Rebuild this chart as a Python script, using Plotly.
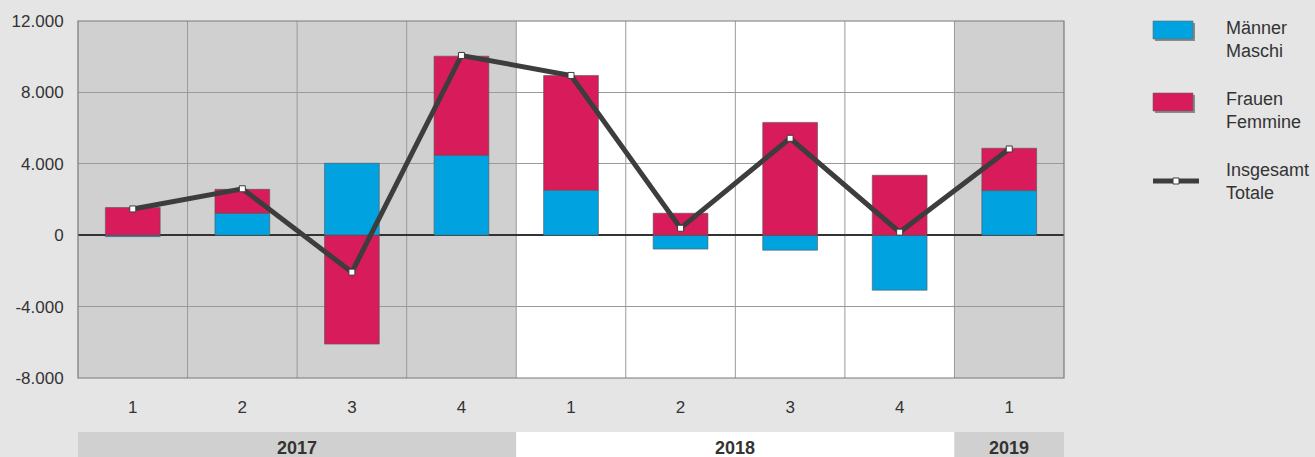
import plotly.graph_objects as go

quarters = ["1", "2", "3", "4", "1", "2", "3", "4", "1"]
years = ["2017", "2018", "2019"]
year_quarter_counts = [4, 4, 1]
maenner = [-80, 1230, 4030, 4480, 2520, -780, -840, -3080, 2500]
frauen = [1550, 1340, -6100, 5550, 6430, 1230, 6320, 3360, 2370]
insgesamt = [1470, 2600, -2070, 10070, 8950, 390, 5430, 170, 4830]
y_tickvals = [-8000, -4000, 0, 4000, 8000, 12000]
y_ticktext = ["-8.000", "-4.000", "0", "4.000", "8.000", "12.000"]
legend_labels = ["Männer<br>Maschi", "Frauen<br>Femmine", "Insgesamt<br>Totale"]

BLUE = "#00a3e0"
RED = "#d81b5a"
LINE = "#3d3d3d"
PAGE = "#e5e5e5"
GRAYBG = "#d0d0d0"
FONT = "Liberation Sans, Arial, sans-serif"

x = list(range(len(quarters)))

fig = go.Figure()
fig.add_bar(x=x, y=maenner, marker=dict(color=BLUE, line=dict(color="#555", width=0.6)),
            width=0.5, name="Männer Maschi", showlegend=False)
fig.add_bar(x=x, y=frauen, marker=dict(color=RED, line=dict(color="#555", width=0.6)),
            width=0.5, name="Frauen Femmine", showlegend=False)
fig.add_scatter(x=x, y=insgesamt, mode="lines+markers",
                line=dict(color=LINE, width=5),
                marker=dict(symbol="square", size=6, color="white", line=dict(color=LINE, width=1)),
                name="Insgesamt Totale", showlegend=False)

shapes = []
start = 0
fills = [GRAYBG, "white", GRAYBG]
for i, n in enumerate(year_quarter_counts):
    x0 = start - 0.5
    x1 = start + n - 0.5
    shapes.append(dict(type="rect", xref="x", yref="paper", x0=x0, x1=x1, y0=0, y1=1,
                       fillcolor=fills[i], line=dict(width=0), layer="below"))
    shapes.append(dict(type="rect", xref="x", yref="paper", x0=x0, x1=x1, y0=-0.151, y1=-0.23,
                       fillcolor=fills[i], line=dict(width=0), layer="below"))
    start += n
for k in range(len(quarters) - 1):
    shapes.append(dict(type="line", xref="x", yref="paper", x0=k + 0.5, x1=k + 0.5, y0=0, y1=1,
                       line=dict(color="#9a9a9a", width=1), layer="below"))
shapes.append(dict(type="rect", xref="paper", yref="paper", x0=0, x1=1, y0=0, y1=1,
                   line=dict(color="#7a7a7a", width=1.2), layer="above"))

annotations = []
start = 0
for i, n in enumerate(year_quarter_counts):
    annotations.append(dict(x=start + (n - 1) / 2, xref="x", y=-0.195, yref="paper",
                            text="<b>" + years[i] + "</b>", showarrow=False,
                            font=dict(family=FONT, size=18, color="#333"),
                            xanchor="center", yanchor="middle"))
    start += n


def px_x(px):
    return (px - 78) / 986


def px_y(py):
    return (378 - py) / 357


leg_colors = [BLUE, RED]
leg_tops = [21, 93]
for c, t in zip(leg_colors, leg_tops):
    shapes.append(dict(type="rect", xref="paper", yref="paper", x0=px_x(1155), x1=px_x(1195),
                       y0=px_y(t + 20), y1=px_y(t + 2), fillcolor="#8a8a8a", line=dict(width=0)))
    shapes.append(dict(type="rect", xref="paper", yref="paper", x0=px_x(1153), x1=px_x(1193),
                       y0=px_y(t + 18), y1=px_y(t), fillcolor=c, line=dict(color="#666", width=0.6)))
shapes.append(dict(type="line", xref="paper", yref="paper", x0=px_x(1153), x1=px_x(1199),
                   y0=px_y(181), y1=px_y(181), line=dict(color=LINE, width=5)))
shapes.append(dict(type="rect", xref="paper", yref="paper", x0=px_x(1173), x1=px_x(1179),
                   y0=px_y(184), y1=px_y(178), fillcolor="white", line=dict(color=LINE, width=1)))
for lab, cy in zip(legend_labels, [39, 110, 181]):
    annotations.append(dict(x=px_x(1224), xref="paper", y=px_y(cy), yref="paper", text=lab,
                            showarrow=False, align="left", xanchor="left", yanchor="middle",
                            font=dict(family=FONT, size=18, color="#333")))

fig.update_layout(
    width=1315, height=457,
    margin=dict(l=78, r=251, t=21, b=79),
    paper_bgcolor=PAGE, plot_bgcolor="rgba(0,0,0,0)",
    barmode="relative",
    shapes=shapes, annotations=annotations,
    font=dict(family=FONT, size=17, color="#333"),
    showlegend=False,
)
fig.update_xaxes(range=[-0.5, len(quarters) - 0.5], tickvals=x, ticktext=quarters,
                 showgrid=False, zeroline=False, ticks="outside", ticklen=14,
                 tickcolor="rgba(0,0,0,0)", showline=False, fixedrange=True)
fig.update_yaxes(range=[-8000, 12000], tickvals=y_tickvals, ticktext=y_ticktext,
                 showgrid=True, gridcolor="#9a9a9a", gridwidth=1,
                 zeroline=True, zerolinecolor="#333", zerolinewidth=1.6,
                 ticks="outside", ticklen=10, tickcolor="rgba(0,0,0,0)", showline=False,
                 fixedrange=True)

fig.write_html("out.html", config={"displayModeBar": False},
               post_script="document.body.style.margin='0';document.body.style.overflow='hidden';document.body.style.background='#e5e5e5';")
